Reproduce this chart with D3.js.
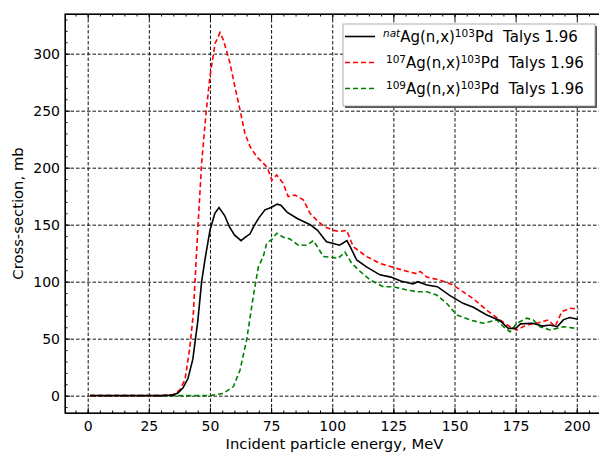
<!DOCTYPE html>
<html>
<head>
<meta charset="utf-8">
<script src="https://cdn.jsdelivr.net/npm/d3@7"></script>
<style>
  body { margin: 0; background: #fff; }
  svg { display: block; font-family: "DejaVu Sans", sans-serif; }
</style>
</head>
<body>
<script>
// energies (MeV) and cross-sections (mb)
let natE = [1, 30, 35, 37, 39, 41, 43, 45, 46.6, 48, 50, 52, 53.7, 56, 58, 60, 62.7, 64.5, 66.4, 68, 70, 72.5, 75, 77.5, 79, 81.5, 85.5, 88, 91, 94, 96.5, 97.7, 100, 103, 106, 107.5, 110, 114, 119.5, 124, 128, 133, 135, 138.7, 143, 148, 153.5, 157.7, 163, 168.5, 172, 175, 177, 182, 186, 189, 192, 194.5, 197, 200.5];
let natY = [0, 0, 0.5, 2.5, 7, 15, 32, 65, 100, 120, 145, 160, 165, 158, 148, 141, 136, 139, 142, 149, 156, 163, 165, 168, 167, 161, 155.6, 153, 150, 145, 138, 135, 133.7, 132, 136, 130, 119, 113, 106, 104, 100.6, 98, 100, 97, 95.6, 88, 81, 77.5, 71, 66, 59, 59, 63, 63.5, 61, 62, 60.5, 66.5, 68.5, 67];

let redE = [1, 30, 35, 37.7, 39.8, 41.8, 43.2, 45, 46.6, 48.4, 50, 52.1, 53, 54.1, 55.5, 58.2, 60.2, 62.3, 64.3, 66.4, 69.1, 71.8, 73.5, 75.3, 77.3, 80, 82, 84.8, 88.2, 90.9, 94.3, 97, 100.5, 103, 105.9, 108.6, 114.1, 119.5, 124.3, 129, 134.6, 136, 138.7, 144, 149.5, 153.6, 157.7, 163.2, 168.6, 172.7, 175.5, 179.5, 183.6, 186, 188.4, 191.1, 193.9, 197.3, 200.7];
let redY = [0, 0, 1, 5, 14, 43, 72, 145, 204, 248, 280, 309, 313, 318.5, 312, 291.6, 271, 250.6, 230, 218.4, 209.6, 204, 200, 189, 193.6, 186, 174.6, 176, 171.7, 160, 152.6, 148, 145, 144, 145, 130.7, 122, 116, 113, 110, 107, 109, 104, 101.5, 97, 91, 85, 75, 66.4, 60.5, 57.6, 62, 63.5, 65, 66.4, 60.5, 73.7, 76.7, 75.8];

let greenE = [1, 50, 55.5, 59.6, 62.3, 65, 67.7, 69.8, 71.8, 73.2, 75.3, 77.3, 80, 82.7, 86.1, 89.6, 92.3, 94.3, 96.4, 99.8, 102.5, 105.2, 108, 111.4, 115.5, 120.9, 125, 130.5, 134.6, 138.7, 142.7, 146.8, 150.9, 156.4, 161.8, 167.3, 170, 172.7, 175.5, 179.5, 182.2, 185, 189.1, 194.5, 200];
let greenY = [0, 0, 2, 8, 22.5, 49, 87, 113, 122, 133.7, 137, 142.5, 139, 137.5, 132, 132, 136, 129.3, 122, 121.4, 120.5, 126, 116, 109, 101.5, 95.6, 95.6, 92.7, 91.2, 91.2, 88.3, 81, 70.8, 66.4, 63.5, 66.4, 60.5, 56, 63.5, 68, 66.4, 60.5, 57.6, 60.5, 59];

let xTicks = [0, 25, 50, 75, 100, 125, 150, 175, 200];
let yTicks = [0, 50, 100, 150, 200, 250, 300];
let seriesNames = ["nat", "107", "109"];

let margin = {top: 14, right: -1, bottom: 42, left: 65},
    width = 599 - margin.left - margin.right,
    height = 455 - margin.top - margin.bottom;

let x = d3.scaleLinear().domain([-9.28, 209.5]).range([0, width]);
let y = d3.scaleLinear().domain([-15.2, 334.8]).range([height, 0]);

let svg = d3.select("body").append("svg")
    .attr("width", 599)
    .attr("height", 455)
  .append("g")
    .attr("transform", "translate(" + margin.left + "," + margin.top + ")");

svg.append("clipPath").attr("id", "plot")
  .append("rect").attr("width", width).attr("height", height);

// grid
let grid = svg.append("g").attr("class", "grid");
grid.append("g")
    .attr("transform", "translate(0," + height + ")")
    .call(d3.axisBottom(x).tickValues(xTicks).tickSize(-height).tickFormat(""));
grid.append("g")
    .call(d3.axisLeft(y).tickValues(yTicks).tickSize(-width).tickFormat(""));
grid.selectAll(".domain").remove();
grid.selectAll("line")
    .attr("stroke", "#111")
    .attr("stroke-width", 1)
    .attr("stroke-dasharray", "3.5,2");

// curves
let series = [
  {e: natE, v: natY, color: "#000", dash: null},
  {e: redE, v: redY, color: "#ff0000", dash: "5,3"},
  {e: greenE, v: greenY, color: "#008000", dash: "5,3"}
];
let line = d3.line().x(d => x(d[0])).y(d => y(d[1]));

svg.append("g").attr("clip-path", "url(#plot)")
  .selectAll("path")
  .data(series.slice().reverse())
  .enter().append("path")
    .attr("d", s => line(d3.zip(s.e, s.v)))
    .attr("fill", "none")
    .attr("stroke", s => s.color)
    .attr("stroke-width", 1.6)
    .attr("stroke-dasharray", s => s.dash);

// axes, ticks pointing in
function styleAxis(g) {
  g.selectAll("text").attr("font-size", 14).attr("fill", "#000")
    .attr("font-family", "DejaVu Sans");
  g.selectAll("line").attr("stroke", "#000");
  g.select(".domain").attr("stroke", "#000");
}
let minorX = d3.range(-5, 210, 5), minorY = d3.range(-10, 335, 10);

svg.append("g")
    .attr("transform", "translate(0," + height + ")")
    .call(d3.axisBottom(x).tickValues(minorX).tickSize(-2.5).tickFormat("").tickSizeOuter(0))
    .call(styleAxis);
svg.append("g")
    .attr("transform", "translate(0," + height + ")")
    .call(d3.axisBottom(x).tickValues(xTicks).tickSize(-5).tickSizeOuter(0).tickPadding(8))
    .call(styleAxis);
svg.append("g")
    .call(d3.axisTop(x).tickValues(minorX).tickSize(-2.5).tickFormat("").tickSizeOuter(0))
    .call(styleAxis);
svg.append("g")
    .call(d3.axisTop(x).tickValues(xTicks).tickSize(-5).tickFormat("").tickSizeOuter(0))
    .call(styleAxis);
svg.append("g")
    .call(d3.axisLeft(y).tickValues(minorY).tickSize(-2.5).tickFormat("").tickSizeOuter(0))
    .call(styleAxis);
svg.append("g")
    .call(d3.axisLeft(y).tickValues(yTicks).tickSize(-5).tickSizeOuter(0).tickPadding(5))
    .call(styleAxis);
svg.append("rect")
    .attr("width", width).attr("height", height)
    .attr("fill", "none").attr("stroke", "#000").attr("stroke-width", 1.2);

// axis labels
svg.append("text")
    .attr("x", width / 2 + 2)
    .attr("y", height + 36)
    .attr("text-anchor", "middle")
    .attr("font-size", 14.8)
    .text("Incident particle energy, MeV");
svg.append("text")
    .attr("transform", "translate(-42," + (height / 2) + ") rotate(-90)")
    .attr("text-anchor", "middle")
    .attr("font-size", 14.8)
    .text("Cross-section, mb");

// legend
let lg = svg.append("g").attr("transform", "translate(" + (343 - margin.left) + "," + (24 - margin.top) + ")");
lg.append("rect").attr("x", 2).attr("y", 2).attr("width", 252).attr("height", 82).attr("fill", "#555");
lg.append("rect").attr("width", 252).attr("height", 82)
    .attr("fill", "#fff").attr("stroke", "#999").attr("stroke-width", 0.8);

let rows = lg.selectAll(".row")
  .data(series)
  .enter().append("g")
    .attr("transform", (d, i) => "translate(0," + (12.5 + i * 26) + ")");
rows.append("line")
    .attr("x1", 2).attr("x2", 32)
    .attr("stroke", s => s.color)
    .attr("stroke-width", 1.6)
    .attr("stroke-dasharray", s => s.dash);
let txt = rows.append("text")
    .attr("x", (d, i) => i == 0 ? 40 : 43)
    .attr("y", 5.5)
    .attr("font-size", 15);
txt.append("tspan")
    .attr("font-size", 10.5)
    .attr("dy", -5.5)
    .attr("font-style", (d, i) => i == 0 ? "italic" : null)
    .text((d, i) => seriesNames[i]);
txt.append("tspan").attr("dy", 5.5).text("Ag(n,x)");
txt.append("tspan").attr("font-size", 10.5).attr("dy", -5.5).text("103");
txt.append("tspan").attr("dy", 5.5).text("Pd\u00a0\u00a0Talys 1.96");
</script>
</body>
</html>
